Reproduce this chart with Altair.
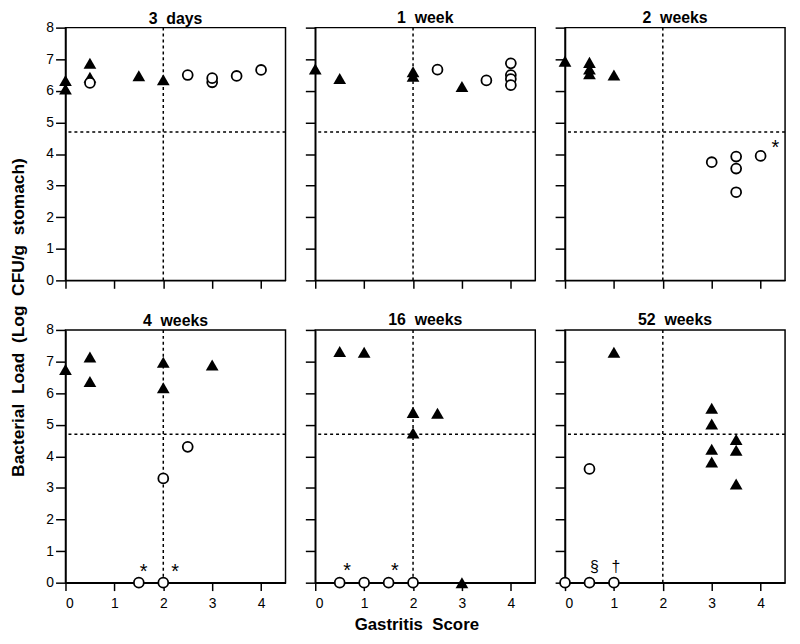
import altair as alt
import pandas as pd

FONT = "Liberation Sans"

PANEL_TITLES = ["3\u00a0 days", "1\u00a0 week", "2\u00a0 weeks",
                "4\u00a0 weeks", "16\u00a0 weeks", "52\u00a0 weeks"]

X_TICKS = [0, 1, 2, 3, 4]
Y_TICKS = [0, 1, 2, 3, 4, 5, 6, 7, 8]
THRESH_X = [2]
THRESH_Y = [4.7]

# 3 days
D3_TRI_X = [0, 0, 0.5, 0.5, 1.5, 2]
D3_TRI_Y = [6.33, 6.06, 6.87, 6.43, 6.48, 6.35]
D3_CIR_X = [0.5, 2.5, 3, 3, 3.5, 4]
D3_CIR_Y = [6.25, 6.5, 6.27, 6.4, 6.47, 6.66]
D3_ANN_X, D3_ANN_Y, D3_ANN_T = [], [], []

# 1 week
W1_TRI_X = [0, 0.5, 2, 2, 3]
W1_TRI_Y = [6.69, 6.39, 6.6, 6.46, 6.14]
W1_CIR_X = [2.5, 3.5, 4, 4, 4, 4]
W1_CIR_Y = [6.67, 6.33, 6.87, 6.5, 6.37, 6.18]
W1_ANN_X, W1_ANN_Y, W1_ANN_T = [], [], []

# 2 weeks
W2_TRI_X = [0, 0.5, 0.5, 0.5, 1]
W2_TRI_Y = [6.94, 6.9, 6.69, 6.54, 6.5]
W2_CIR_X = [3, 3.5, 3.5, 3.5, 4]
W2_CIR_Y = [3.74, 3.92, 3.54, 2.79, 3.94]
W2_ANN_X, W2_ANN_Y, W2_ANN_T = [4.3], [4.3], ["*"]

# 4 weeks
W4_TRI_X = [0, 0.5, 0.5, 2, 2, 3]
W4_TRI_Y = [6.75, 7.14, 6.37, 6.98, 6.17, 6.89]
W4_CIR_X = [2.5, 2, 1.5, 2]
W4_CIR_Y = [4.3, 3.3, 0, 0]
W4_ANN_X, W4_ANN_Y, W4_ANN_T = [1.6, 2.24], [0.46, 0.46], ["*", "*"]

# 16 weeks
W16_TRI_X = [0.5, 1, 2, 2, 2.5, 3]
W16_TRI_Y = [7.32, 7.29, 5.39, 4.74, 5.36, 0]
W16_CIR_X = [0.5, 1, 1.5, 2]
W16_CIR_Y = [0, 0, 0, 0]
W16_ANN_X, W16_ANN_Y, W16_ANN_T = [0.65, 1.63], [0.5, 0.5], ["*", "*"]

# 52 weeks
W52_TRI_X = [1, 3, 3, 3, 3, 3.5, 3.5, 3.5]
W52_TRI_Y = [7.29, 5.52, 5.02, 4.22, 3.82, 4.53, 4.19, 3.12]
W52_CIR_X = [0.5, 0, 0.5, 1]
W52_CIR_Y = [3.6, 0, 0, 0]
W52_ANN_X, W52_ANN_Y, W52_ANN_T = [0.6, 1.04], [0.5, 0.5], ["\u00a7", "\u2020"]

PANELS = [
    (D3_TRI_X, D3_TRI_Y, D3_CIR_X, D3_CIR_Y, D3_ANN_X, D3_ANN_Y, D3_ANN_T),
    (W1_TRI_X, W1_TRI_Y, W1_CIR_X, W1_CIR_Y, W1_ANN_X, W1_ANN_Y, W1_ANN_T),
    (W2_TRI_X, W2_TRI_Y, W2_CIR_X, W2_CIR_Y, W2_ANN_X, W2_ANN_Y, W2_ANN_T),
    (W4_TRI_X, W4_TRI_Y, W4_CIR_X, W4_CIR_Y, W4_ANN_X, W4_ANN_Y, W4_ANN_T),
    (W16_TRI_X, W16_TRI_Y, W16_CIR_X, W16_CIR_Y, W16_ANN_X, W16_ANN_Y, W16_ANN_T),
    (W52_TRI_X, W52_TRI_Y, W52_CIR_X, W52_CIR_Y, W52_ANN_X, W52_ANN_Y, W52_ANN_T),
]

W, H = 222, 255


def make_panel(i):
    tri_x, tri_y, cir_x, cir_y, ann_x, ann_y, ann_t = PANELS[i]
    row, col = divmod(i, 3)
    xscale = alt.Scale(domain=[0, 4.5], nice=False, zero=False)
    yscale = alt.Scale(domain=[0, 8], nice=False, zero=False)
    if i == 4:
        xaxis = alt.Axis(values=X_TICKS, labels=(row == 1), title="Gastritis\u00a0 Score",
                         titleX=102, titlePadding=6)
    else:
        xaxis = alt.Axis(values=X_TICKS, labels=(row == 1), title="")
    if i == 0:
        yaxis = alt.Axis(values=Y_TICKS, labels=(col == 0),
                         title="Bacterial\u00a0 Load\u00a0 (Log\u00a0 CFU/g\u00a0 stomach)",
                         titleY=292, titlePadding=19, titleFontSize=17.5)
    else:
        yaxis = alt.Axis(values=Y_TICKS, labels=(col == 0), title="")
    X = lambda f: alt.X(f, type="quantitative", scale=xscale, axis=xaxis)
    Y = lambda f: alt.Y(f, type="quantitative", scale=yscale, axis=yaxis)

    vrule = alt.Chart(pd.DataFrame({"x": THRESH_X})).mark_rule(
        color="black", strokeWidth=1.5, strokeDash=[3, 3]).encode(x=X("x"))
    hrule = alt.Chart(pd.DataFrame({"y": THRESH_Y})).mark_rule(
        color="black", strokeWidth=1.5, strokeDash=[3, 3]).encode(y=Y("y"))
    tri = alt.Chart(pd.DataFrame({"x": tri_x, "y": tri_y})).mark_point(
        shape="triangle-up", filled=True, color="black", size=165, opacity=1
    ).encode(x=X("x"), y=Y("y"))
    cir = alt.Chart(pd.DataFrame({"x": cir_x, "y": cir_y})).mark_point(
        shape="circle", filled=False, fill="white", stroke="black", strokeWidth=1.8,
        size=100, opacity=1, fillOpacity=1
    ).encode(x=X("x"), y=Y("y"))
    layers = [vrule, hrule, tri, cir]
    if ann_t:
        ann = pd.DataFrame({"x": ann_x, "y": ann_y, "t": ann_t})
        star = alt.Chart(ann[ann.t == "*"]).mark_text(
            fontSize=20, font=FONT, color="black", baseline="middle", dy=4
        ).encode(x=X("x"), y=Y("y"), text="t:N")
        other = alt.Chart(ann[ann.t != "*"]).mark_text(
            fontSize=16, font=FONT, color="black", baseline="middle"
        ).encode(x=X("x"), y=Y("y"), text="t:N")
        layers += [star, other]
    return alt.layer(*layers).properties(
        width=W, height=H,
        title=alt.TitleParams(PANEL_TITLES[i], fontSize=16, fontWeight="bold",
                              font=FONT, color="black",
                              offset=(-6 if col == 0 else 1), anchor="middle"))


chart = alt.concat(*[make_panel(i) for i in range(6)], columns=3,
                   spacing={"row": 50, "column": 30}, bounds="flush").properties(
    padding={"left": 0, "top": -2, "right": 5, "bottom": 0}
).configure(font=FONT).configure_view(
    stroke="black", strokeWidth=1.5
).configure_axis(
    domainColor="black", domainWidth=1.5, tickColor="black", tickWidth=1.5,
    labelFont=FONT, labelFontSize=14, labelColor="black", grid=False,
    titleFont=FONT, titleFontSize=17, titleFontWeight="bold", titleColor="black"
).configure_axisX(tickSize=8, labelPadding=6).configure_axisY(tickSize=10, labelPadding=2)

chart.save("out.html", embed_options={"renderer": "svg", "actions": False})
